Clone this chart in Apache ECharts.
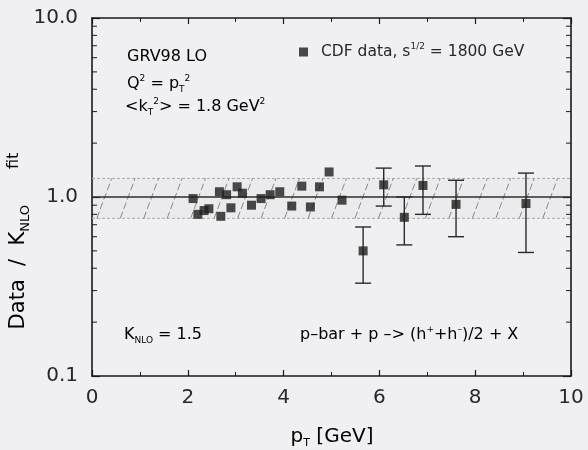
<!DOCTYPE html>
<html>
<head>
<meta charset="utf-8">
<script src="https://cdn.jsdelivr.net/npm/echarts@6/dist/echarts.min.js"></script>
<style>
  html, body { margin: 0; padding: 0; background: #f0f0f2; }
  #chart { width: 588px; height: 450px; }
</style>
</head>
<body>
<div id="chart"></div>
<script>
// CDF charged hadrons, p-bar + p at sqrt(s) = 1800 GeV: ratio Data / (K_NLO * fit) vs pT
const ptValues    = [2.11, 2.21, 2.34, 2.44, 2.66, 2.69, 2.81, 2.90, 3.03, 3.14, 3.33, 3.53, 3.72,
                     3.92, 4.17, 4.38, 4.56, 4.75, 4.95, 5.22, 5.66, 6.09, 6.52, 6.91, 7.60, 9.06];
const ratioValues = [0.98, 0.80, 0.84, 0.86, 1.07, 0.78, 1.03, 0.87, 1.14, 1.05, 0.90, 0.98, 1.03,
                     1.07, 0.89, 1.15, 0.88, 1.14, 1.38, 0.96, 0.50, 1.17, 0.77, 1.16, 0.91, 0.92];

// error bars of the high-pT points
const errPt   = [5.66, 6.09, 6.52, 6.91, 7.60, 9.06];
const errLow  = [0.33, 0.89, 0.54, 0.80, 0.60, 0.49];
const errHigh = [0.68, 1.45, 1.00, 1.49, 1.24, 1.36];

// theory reference and its uncertainty band
const refValue = 1.0;
const bandLow = 0.76;
const bandHigh = 1.27;

// axes
const xMin = 0, xMax = 10, xInterval = 2;
const yMin = 0.1, yMax = 10;
const yTickLabels = { '-1': '0.1', '0': '1.0', '1': '10.0' };
const yMinorTicks = [0.2, 0.3, 0.4, 0.5, 0.6, 0.7, 0.8, 0.9, 2, 3, 4, 5, 6, 7, 8, 9];

const FONT = "'DejaVu Sans', Verdana, sans-serif";
const INK = '#282828';

const chart = echarts.init(document.getElementById('chart'), null, { renderer: 'canvas' });

const axisLine = { show: true, onZero: false, lineStyle: { color: '#1a1a1a', width: 1.6 } };

function makeRich(size) {
  return {
    a:   { fontFamily: FONT, fontSize: size, color: INK, lineHeight: 20, verticalAlign: 'middle' },
    sup: { fontFamily: FONT, fontSize: Math.round(size * 0.56), color: INK, lineHeight: 20, verticalAlign: 'top' },
    sub: { fontFamily: FONT, fontSize: Math.round(size * 0.56), color: INK, lineHeight: 20, verticalAlign: 'bottom' }
  };
}

function label(x, y, text, size) {
  return {
    type: 'text', x: x, y: y, z: 100,
    style: { text: text, rich: makeRich(size), verticalAlign: 'middle', align: 'left' }
  };
}

const option = {
  backgroundColor: '#f0f0f2',
  animation: false,
  grid: { left: 92, right: 17, top: 18, bottom: 74, containLabel: false },
  xAxis: [
    {
      type: 'value', min: xMin, max: xMax, interval: xInterval, position: 'bottom',
      axisLine: axisLine,
      axisTick: { inside: true, length: 6, lineStyle: { color: '#1a1a1a', width: 1.2 } },
      minorTick: { show: true, splitNumber: 2, length: 4, lineStyle: { color: '#1a1a1a', width: 1 } },
      splitLine: { show: false },
      axisLabel: { margin: 12, fontFamily: FONT, fontSize: 20, color: INK }
    },
    {
      type: 'value', min: xMin, max: xMax, interval: xInterval, position: 'top',
      axisLine: axisLine,
      axisTick: { inside: true, length: 6, lineStyle: { color: '#1a1a1a', width: 1.2 } },
      minorTick: { show: true, splitNumber: 2, length: 4, lineStyle: { color: '#1a1a1a', width: 1 } },
      splitLine: { show: false },
      axisLabel: { show: false }
    }
  ],
  yAxis: [
    {
      type: 'log', logBase: 10, min: yMin, max: yMax, position: 'left',
      axisLine: axisLine,
      axisTick: { inside: true, length: 8, lineStyle: { color: '#1a1a1a', width: 1.2 } },
      splitLine: { show: false },
      axisLabel: {
        margin: 14, fontFamily: FONT, fontSize: 20, color: INK,
        formatter: function (v) { return yTickLabels[String(Math.round(Math.log10(v)))] || ''; }
      }
    },
    {
      type: 'log', logBase: 10, min: yMin, max: yMax, position: 'right',
      axisLine: axisLine,
      axisTick: { inside: true, length: 8, lineStyle: { color: '#1a1a1a', width: 1.2 } },
      splitLine: { show: false },
      axisLabel: { show: false }
    }
  ],
  legend: {
    show: true, left: 294, top: 37, itemWidth: 9, itemHeight: 9, itemGap: 0,
    icon: 'rect', data: ['CDF'],
    formatter: function () { return '{a|CDF data, s}{sup|1/2}{a| = 1800 GeV}'; },
    textStyle: { rich: makeRich(15.5), padding: [0, 0, 0, 8] }
  },
  series: [
    {
      // uncertainty band with hatching
      type: 'custom', name: 'band', xAxisIndex: 0, yAxisIndex: 0, z: 1, silent: true,
      data: [[bandLow, bandHigh]],
      renderItem: function (params, api) {
        const lo = api.value(0), hi = api.value(1);
        const a = api.coord([xMin, hi]), b = api.coord([xMax, lo]);
        const kids = [
          { type: 'rect', shape: { x: a[0], y: a[1], width: b[0] - a[0], height: b[1] - a[1] },
            style: { fill: 'rgba(0,0,0,0.02)' } },
          { type: 'line', shape: { x1: a[0], y1: a[1], x2: b[0], y2: a[1] },
            style: { stroke: '#a9a9ad', lineWidth: 1, lineDash: [3, 2] } },
          { type: 'line', shape: { x1: a[0], y1: b[1], x2: b[0], y2: b[1] },
            style: { stroke: '#a9a9ad', lineWidth: 1, lineDash: [3, 2] } }
        ];
        const step = 0.49, slant = 0.31;
        for (let x = 0.1; x + slant <= xMax; x += step) {
          const p = api.coord([x, lo]), q = api.coord([x + slant, hi]);
          kids.push({ type: 'line', shape: { x1: p[0], y1: p[1], x2: q[0], y2: q[1] },
            style: { stroke: '#88888c', lineWidth: 1, lineDash: [7, 3] } });
        }
        return { type: 'group', children: kids };
      }
    },
    {
      type: 'line', name: 'ref', xAxisIndex: 0, yAxisIndex: 0, z: 2, silent: true,
      data: [[xMin, refValue], [xMax, refValue]],
      symbol: 'none', lineStyle: { color: '#2e2e2e', width: 1.6 }
    },
    {
      // minor ticks of the log axes, left and right frame
      type: 'custom', name: 'minor', xAxisIndex: 0, yAxisIndex: 0, z: 5, silent: true,
      data: yMinorTicks.map(function (v) { return [v]; }),
      renderItem: function (params, api) {
        const v = api.value(0);
        const l = api.coord([xMin, v]), r = api.coord([xMax, v]);
        return { type: 'group', children: [
          { type: 'line', shape: { x1: l[0], y1: l[1], x2: l[0] + 5, y2: l[1] }, style: { stroke: '#1a1a1a', lineWidth: 1 } },
          { type: 'line', shape: { x1: r[0], y1: r[1], x2: r[0] - 5, y2: r[1] }, style: { stroke: '#1a1a1a', lineWidth: 1 } }
        ] };
      }
    },
    {
      type: 'custom', name: 'errors', xAxisIndex: 0, yAxisIndex: 0, z: 3, silent: true,
      data: errPt.map(function (x, i) { return [x, errLow[i], errHigh[i]]; }),
      renderItem: function (params, api) {
        const top = api.coord([api.value(0), api.value(2)]);
        const bot = api.coord([api.value(0), api.value(1)]);
        const w = 8;
        const st = { stroke: '#2a2a2a', lineWidth: 1.4 };
        return { type: 'group', children: [
          { type: 'line', shape: { x1: top[0], y1: top[1], x2: bot[0], y2: bot[1] }, style: st },
          { type: 'line', shape: { x1: top[0] - w, y1: top[1], x2: top[0] + w, y2: top[1] }, style: st },
          { type: 'line', shape: { x1: bot[0] - w, y1: bot[1], x2: bot[0] + w, y2: bot[1] }, style: st }
        ] };
      }
    },
    {
      type: 'scatter', name: 'CDF', xAxisIndex: 0, yAxisIndex: 0, z: 4,
      data: ptValues.map(function (x, i) { return [x, ratioValues[i]]; }),
      symbol: 'rect', symbolSize: 9,
      itemStyle: { color: '#1e1e1e' }
    }
  ],
  graphic: [
    label(127, 57, '{a|GRV98 LO}', 16),
    label(127, 84, '{a|Q}{sup|2}{a| = p}{sub|T}{sup|2}', 16),
    label(125, 107, '{a|<k}{sub|T}{sup|2}{a|> = 1.8 GeV}{sup|2}', 16),
    label(124, 335, '{a|K}{sub|NLO}{a| = 1.5}', 16),
    label(300, 335, '{a|p\u2013bar + p \u2013> (h}{sup|+}{a|+h}{sup|\u2013}{a|)/2 + X}', 16),
    {
      type: 'text', x: 332, y: 437, z: 100,
      style: {
        text: '{a|p}{sub|T}{a| [GeV]}', align: 'center', verticalAlign: 'middle',
        rich: {
          a:   { fontFamily: FONT, fontSize: 20, color: INK, lineHeight: 24 },
          sub: { fontFamily: FONT, fontSize: 11, color: INK, lineHeight: 24, verticalAlign: 'bottom' }
        }
      }
    },
    {
      type: 'text', x: 19, y: 241, rotation: Math.PI / 2, z: 100,
      style: {
        text: '{a|Data  /  K}{sub|NLO}{sp|}{b|fit}', align: 'center', verticalAlign: 'middle',
        rich: {
          a:   { fontFamily: FONT, fontSize: 21, color: INK, lineHeight: 26 },
          b:   { fontFamily: FONT, fontSize: 16, color: INK, lineHeight: 26, verticalAlign: 'top' },
          sub: { fontFamily: FONT, fontSize: 13, color: INK, lineHeight: 26, verticalAlign: 'bottom' },
          sp:  { width: 36, lineHeight: 26 }
        }
      }
    }
  ]
};

chart.setOption(option);
</script>
</body>
</html>
